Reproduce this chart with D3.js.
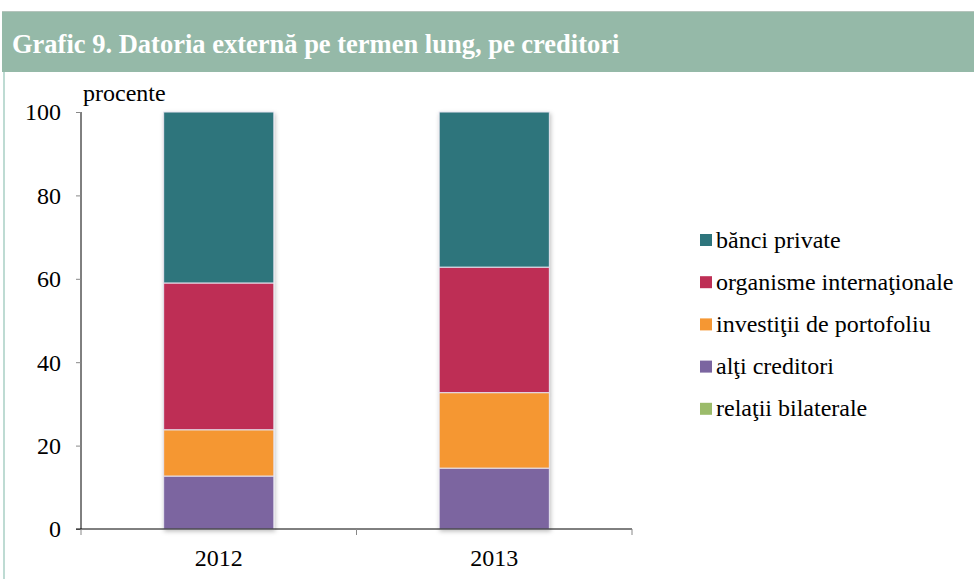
<!DOCTYPE html>
<html>
<head>
<meta charset="utf-8">
<script src="https://cdn.jsdelivr.net/npm/d3@7"></script>
<style>
  html, body { margin: 0; padding: 0; background: #fff; }
  svg { display: block; }
  svg text { font-family: 'Liberation Serif', 'Times New Roman', Times, 'DejaVu Serif', serif !important; }
</style>
</head>
<body>
<svg id="chart" width="974" height="579"></svg>
<script>
const categories = ["2012", "2013"];
const seriesNames = ["relaţii bilaterale", "alţi creditori", "investiţii de portofoliu", "organisme internaţionale", "bănci private"];
const relatiiBilaterale = [0, 0];
const altiCreditori = [12.7, 14.6];
const investitiiPortofoliu = [11.1, 18.1];
const organismeInternationale = [35.2, 30.1];
const banciPrivate = [41.0, 37.2];
const seriesColors = ["#9bbb6a", "#7b65a0", "#f59733", "#be2f55", "#2e757c"];
const legendOrder = ["bănci private", "organisme internaţionale", "investiţii de portofoliu", "alţi creditori", "relaţii bilaterale"];
const yTicks = [0, 20, 40, 60, 80, 100];

const seriesValues = [relatiiBilaterale, altiCreditori, investitiiPortofoliu, organismeInternationale, banciPrivate];
const table = categories.map((c, i) => {
  const row = { cat: c };
  seriesNames.forEach((s, j) => row[s] = seriesValues[j][i]);
  return row;
});

const svg = d3.select("#chart");

// frame
svg.append("rect").attr("x", 2).attr("y", 11).attr("width", 972).attr("height", 61).attr("fill", "#95b9a8");
svg.append("line").attr("x1", 2).attr("x2", 974).attr("y1", 11.5).attr("y2", 11.5).attr("stroke", "#b5c4bc").attr("stroke-width", 1);
svg.append("line").attr("x1", 4).attr("x2", 4).attr("y1", 72).attr("y2", 579).attr("stroke", "#a9cfc4").attr("stroke-width", 1.5);
svg.append("text").attr("x", 12).attr("y", 53).attr("fill", "#fff")
  .attr("font-size", 26.5).attr("font-weight", "bold")
  .text("Grafic 9. Datoria externă pe termen lung, pe creditori");

const defs = svg.append("defs");
const f = defs.append("filter").attr("id", "shadow").attr("x", "-10%").attr("y", "-5%").attr("width", "125%").attr("height", "115%");
f.append("feDropShadow").attr("dx", 1).attr("dy", 2).attr("stdDeviation", 2).attr("flood-color", "#000").attr("flood-opacity", 0.25);

const x = d3.scaleBand().domain(categories).range([81, 632]).paddingInner(0.6).paddingOuter(0.3);
const y = d3.scaleLinear().domain([0, 100]).range([529, 112]);

const stack = d3.stack().keys(seriesNames);
const stacked = stack(table);

const barsG = svg.append("g");
categories.forEach((c, i) => {
  const g = barsG.append("g").attr("filter", "url(#shadow)");
  stacked.forEach((layer, j) => {
    const d = layer[i];
    if (d[1] - d[0] <= 0) return;
    g.append("rect")
      .attr("x", x(c))
      .attr("width", x.bandwidth())
      .attr("y", y(d[1]))
      .attr("height", y(d[0]) - y(d[1]))
      .attr("fill", seriesColors[j])
      .attr("stroke", "#e6e3ef")
      .attr("stroke-width", 1);
  });
});

// y axis
const yAxis = d3.axisLeft(y).tickValues(yTicks).tickSize(5).tickPadding(15);
const yg = svg.append("g").attr("transform", "translate(81,0)").call(yAxis);
yg.attr("font-family", null).attr("font-size", null);
yg.select(".domain").attr("stroke", "#000").attr("d", "M0,112V529");
yg.selectAll(".tick line").attr("stroke", "#888");
yg.selectAll(".tick text").attr("font-size", 24).attr("fill", "#000").attr("dy", "0.33em");

// x axis
const xg = svg.append("g").attr("transform", "translate(0,529)");
xg.append("line").attr("x1", 76).attr("x2", 632).attr("y1", 0).attr("y2", 0).attr("stroke", "#000");
const boundaries = [x.range()[0], (x("2012") + x("2013") + x.bandwidth()) / 2, x.range()[1]];
boundaries.forEach(b => {
  xg.append("line").attr("x1", b).attr("x2", b).attr("y1", 0).attr("y2", 6).attr("stroke", "#888");
});
categories.forEach(c => {
  xg.append("text").attr("x", x(c) + x.bandwidth() / 2).attr("y", 37)
    .attr("text-anchor", "middle").attr("font-size", 24).attr("fill", "#000").text(c);
});

svg.append("text").attr("x", 83).attr("y", 101).attr("font-size", 24).attr("fill", "#000").text("procente");

// legend
const legend = svg.append("g");
legendOrder.forEach((name, k) => {
  const j = seriesNames.indexOf(name);
  const cy = 240 + k * 42.2;
  legend.append("rect").attr("x", 700).attr("y", cy - 6).attr("width", 12).attr("height", 12).attr("fill", seriesColors[j]);
  legend.append("text").attr("x", 716).attr("y", cy + 7.5).attr("font-size", 24).attr("fill", "#000").text(name);
});
</script>
</body>
</html>
